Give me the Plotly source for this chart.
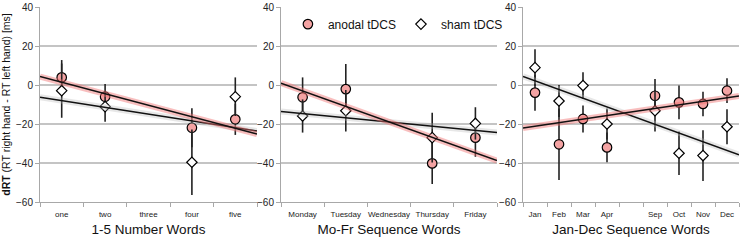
import numpy as np
import plotly.graph_objects as go

# ---------------- data ----------------
number_words = ["one", "two", "three", "four", "five"]
anodal_num = [3.9, -6.0, None, -21.9, -17.6]
anodal_num_err = [8.9, 6.5, None, 10.0, 8.0]
sham_num = [-2.9, -11.1, None, -39.6, -6.0]
sham_num_err = [13.9, 7.7, None, 16.8, 9.9]

weekday_words = ["Monday", "Tuesday", "Wednesday", "Thursday", "Friday"]
anodal_day = [-6.3, -2.1, None, -40.2, -27.0]
anodal_day_err = [10.2, 12.9, None, 10.6, 9.8]
sham_day = [-15.9, -13.2, None, -27.0, -19.7]
sham_day_err = [8.5, 10.7, None, 12.8, 8.3]

month_words = ["Jan", "Feb", "Mar", "Apr", "", "Sep", "Oct", "Nov", "Dec"]
anodal_month = [-3.9, -30.4, -17.4, -32.0, None, -5.5, -8.9, -9.7, -2.9]
anodal_month_err = [9.3, 18.3, 6.9, 7.6, None, 8.6, 8.6, 6.3, 6.3]
sham_month = [8.9, -8.2, -0.3, -20.0, None, -13.2, -35.0, -36.2, -21.4]
sham_month_err = [9.4, 8.2, 6.8, 8.0, None, 10.7, 11.2, 13.0, 9.0]

x_titles = ["1-5 Number Words", "Mo-Fr Sequence Words", "Jan-Dec Sequence Words"]
y_title = "<b>dRT</b> (RT right hand - RT left hand) [ms]"
series_names = ["anodal tDCS", "sham tDCS"]

panels = [
    (number_words, anodal_num, anodal_num_err, sham_num, sham_num_err),
    (weekday_words, anodal_day, anodal_day_err, sham_day, sham_day_err),
    (month_words, anodal_month, anodal_month_err, sham_month, sham_month_err),
]

# ---------------- style ----------------
FONT = "Liberation Sans, Arial, sans-serif"
W, H = 743, 241
px_domains = [(40, 257), (281, 497), (523, 739)]
domains = [(a / W, b / W) for a, b in px_domains]
RED_FILL = "#f4a3a3"
GRID = "#c4c4c4"
AXIS = "#a8a8a8"

fig = go.Figure()

for i, (labels, a_vals, a_err, s_vals, s_err) in enumerate(panels):
    ax = "" if i == 0 else str(i + 1)
    xref, yref = "x" + ax, "y" + ax
    n = len(labels)
    xs = np.arange(1, n + 1)

    # markers with error bars
    fig.add_trace(go.Scatter(
        x=xs, y=a_vals, mode="markers", name=series_names[0],
        xaxis=xref, yaxis=yref, showlegend=(i == 1), legendrank=1,
        marker=dict(symbol="circle", size=9.5, color=RED_FILL,
                    line=dict(color="black", width=1.2)),
        error_y=dict(type="data", array=a_err, visible=True,
                     color="#222222", thickness=1.6, width=0),
    ))
    fig.add_trace(go.Scatter(
        x=xs, y=s_vals, mode="markers", name=series_names[1],
        xaxis=xref, yaxis=yref, showlegend=(i == 1), legendrank=2,
        marker=dict(symbol="diamond", size=8, color="white",
                    line=dict(color="black", width=1.2)),
        error_y=dict(type="data", array=s_err, visible=True,
                     color="#222222", thickness=1.6, width=0),
    ))

    # linear trend lines (least squares over the plotted points)
    xline = np.array([0.5, n + 0.5])
    for vals, halo in ((s_vals, "rgba(185,185,185,0.35)"),
                       (a_vals, "rgba(240,110,110,0.45)")):
        xv = np.array([x for x, v in zip(xs, vals) if v is not None], float)
        yv = np.array([v for v in vals if v is not None], float)
        slope, icpt = np.polyfit(xv, yv, 1)
        yline = slope * xline + icpt
        fig.add_trace(go.Scatter(
            x=xline, y=yline, mode="lines", xaxis=xref, yaxis=yref,
            showlegend=False, hoverinfo="skip",
            line=dict(color=halo, width=6)))
        fig.add_trace(go.Scatter(
            x=xline, y=yline, mode="lines", xaxis=xref, yaxis=yref,
            showlegend=False, hoverinfo="skip",
            line=dict(color="#111111", width=1.5)))

    fig.layout["xaxis" + ax] = dict(
        domain=domains[i], anchor=yref, range=[0.5, n + 0.5],
        tickvals=list(xs), ticktext=labels,
        tickfont=dict(family=FONT, size=8, color="#222222"),
        ticks="outside", ticklen=4, tickcolor="rgba(0,0,0,0)",
        minor=dict(tick0=0.5, dtick=1, ticks="outside", ticklen=4,
                   tickcolor=AXIS, showgrid=False),
        showgrid=False, zeroline=False,
        showline=True, linecolor=AXIS, linewidth=1,
        automargin=False,
        title=dict(text=x_titles[i], standoff=6,
                   font=dict(family=FONT, size=13.5, color="#111111")),
        fixedrange=True,
    )
    ydict = dict(
        domain=[39 / H, 1 - 7 / H], anchor=xref, range=[-60, 40],
        tickvals=[-60, -40, -20, 0, 20, 40],
        tickfont=dict(family=FONT, size=10, color="#222222"),
        ticks="outside", ticklen=4, tickcolor=AXIS,
        showgrid=True, gridcolor=GRID, gridwidth=1.5,
        zeroline=False, showline=True, linecolor=AXIS, linewidth=1,
        automargin=False, fixedrange=True,
    )
    if i == 0:
        ydict["title"] = dict(text=y_title, standoff=4,
                              font=dict(family=FONT, size=10.5, color="#111111"))
    fig.layout["yaxis" + ax] = ydict

fig.update_layout(
    width=W, height=H,
    margin=dict(l=0, r=0, t=0, b=0, autoexpand=False),
    paper_bgcolor="white", plot_bgcolor="white",
    font=dict(family=FONT, color="#111111"),
    showlegend=True,
    hovermode=False,
    legend=dict(orientation="h", x=(domains[1][0] + domains[1][1]) / 2 + 0.012,
                xanchor="center", y=0.9, yanchor="middle",
                font=dict(family=FONT, size=12, color="#111111"),
                itemwidth=30, bgcolor="rgba(0,0,0,0)",
                traceorder="normal"),
)

fig.write_html("out.html",
               config={"displayModeBar": False, "staticPlot": True},
               post_script="document.body.style.margin='0px';"
                           "document.body.style.overflow='hidden';")
